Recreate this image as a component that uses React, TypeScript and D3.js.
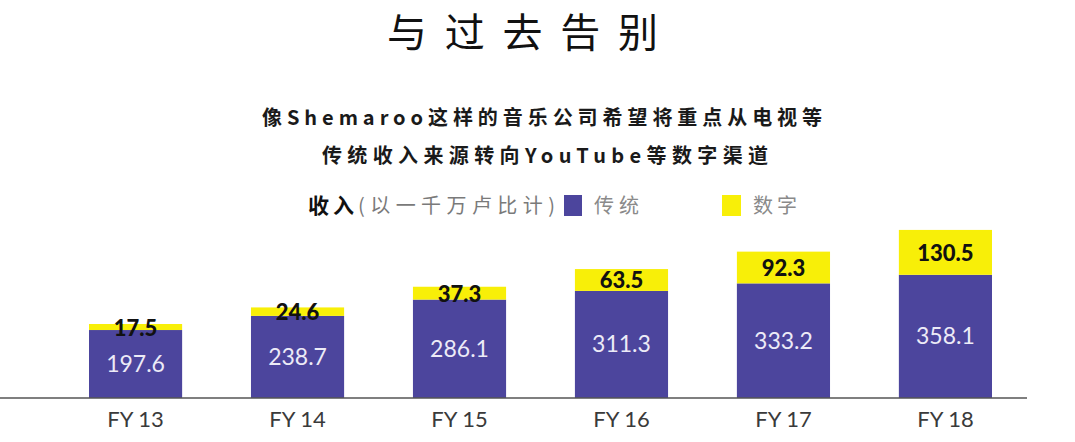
import React from 'react';
import * as d3 from 'd3';

const categories = ['FY 13', 'FY 14', 'FY 15', 'FY 16', 'FY 17', 'FY 18'];
const traditional = [197.6, 238.7, 286.1, 311.3, 333.2, 358.1];
const digital = [17.5, 24.6, 37.3, 63.5, 92.3, 130.5];

const title = '与过去告别';
const subtitle = ['像Shemaroo这样的音乐公司希望将重点从电视等', '传统收入来源转向YouTube等数字渠道'];
const legendTitle = '收入';
const legendUnit = '(以一千万卢比计)';
const seriesNames = ['传统', '数字'];

const W = 1075;
const H = 442;
const PURPLE = '#4c459d';
const YELLOW = '#f8ef08';
const CJK = '"Noto Sans CJK SC", "Noto Sans", sans-serif';
const NUM = 'Lato, "Open Sans", "Noto Sans", sans-serif';

const App: React.FC = () => {
    const x = d3.scaleBand<string>()
        .domain(categories)
        .range([89, 992])
        .paddingInner(0.425)
        .paddingOuter(0);

    // baseline at 398, ~0.344 px per unit
    const y = d3.scaleLinear().domain([0, 500]).range([398, 226]);

    const fmt = d3.format('.1f');

    return (
        <svg width={W} height={H} style={{ position: 'absolute', left: 0, top: 0, background: '#fff' }}>
            {/* title */}
            <text x={387} y={47} fontFamily={CJK} fontSize={40} fontWeight={400} fill="#111"
                textLength={271} lengthAdjust="spacing">{title}</text>

            {/* subtitle */}
            <text x={262} y={125} fontFamily={CJK} fontSize={20} fontWeight={700} fill="#1a1a1a"
                textLength={560} lengthAdjust="spacing">{subtitle[0]}</text>
            <text x={322} y={163} fontFamily={CJK} fontSize={20} fontWeight={700} fill="#1a1a1a"
                textLength={446} lengthAdjust="spacing">{subtitle[1]}</text>

            {/* legend */}
            <text x={308} y={213} fontFamily={CJK} fontSize={21} fontWeight={700} fill="#111"
                textLength={46} lengthAdjust="spacing">{legendTitle}</text>
            <text x={358} y={213} fontFamily={CJK} fontSize={20} fill="#7a7a7a"
                textLength={197} lengthAdjust="spacing">{legendUnit}</text>
            <rect x={564} y={195} width={18} height={21} fill={PURPLE} />
            <text x={594} y={213} fontFamily={CJK} fontSize={20} fill="#8a8a8a"
                textLength={45} lengthAdjust="spacing">{seriesNames[0]}</text>
            <rect x={722} y={195} width={19} height={21} fill={YELLOW} />
            <text x={753} y={213} fontFamily={CJK} fontSize={20} fill="#8a8a8a"
                textLength={44} lengthAdjust="spacing">{seriesNames[1]}</text>

            {/* bars */}
            {categories.map((c, i) => {
                const bx = x(c)!;
                const bw = x.bandwidth();
                const t0 = y(traditional[i]);
                const t1 = y(traditional[i] + digital[i]);
                return (
                    <g key={c}>
                        <rect x={bx} y={t0} width={bw} height={y(0) - t0} fill={PURPLE} />
                        <rect x={bx} y={t1} width={bw} height={t0 - t1} fill={YELLOW} />
                        <text x={bx + bw / 2} y={(y(0) + t0) / 2 - 1} textAnchor="middle"
                            dominantBaseline="central" fontFamily={NUM} fontSize={23}
                            fill="#ecebf7">{fmt(traditional[i])}</text>
                        <text x={bx + bw / 2} y={(t0 + t1) / 2} textAnchor="middle"
                            dominantBaseline="central" fontFamily={NUM} fontSize={22}
                            fontWeight={900} fill="#111">{fmt(digital[i])}</text>
                        <text x={bx + bw / 2} y={418} textAnchor="middle" dominantBaseline="central"
                            fontFamily={NUM} fontSize={22} fill="#3a3a3a">{c}</text>
                    </g>
                );
            })}

            {/* baseline */}
            <line x1={0} x2={1027} y1={y(0)} y2={y(0)} stroke="#555" strokeWidth={1.5} />
        </svg>
    );
};

export default App;
